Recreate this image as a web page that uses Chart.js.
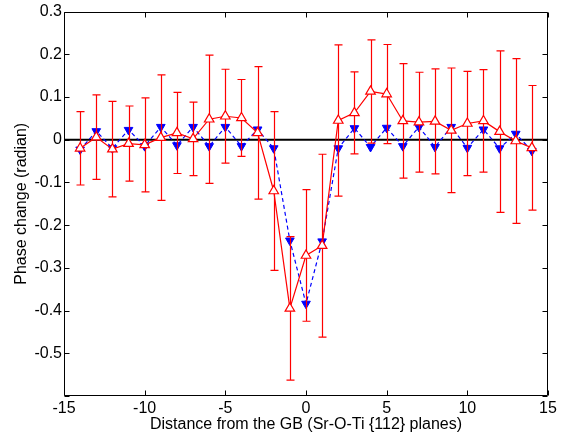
<!DOCTYPE html>
<html lang="en">
<head>
<meta charset="UTF-8">
<title>Phase change across the GB</title>
<script src="https://cdn.jsdelivr.net/npm/chart.js"></script>
<style>
  html, body { margin: 0; padding: 0; background: #ffffff; }
  #phase-chart { display: block; }
</style>
</head>
<body>
<canvas id="phase-chart" width="565" height="437"></canvas>
<script>
// distance from the boundary, in {112} planes
const planes = [-14, -13, -12, -11, -10, -9, -8, -7, -6, -5, -4, -3, -2, -1, 0,
                1, 2, 3, 4, 5, 6, 7, 8, 9, 10, 11, 12, 13, 14];

// measured phase change (red, open triangles) and its error
const measured = [-0.020, 0.006, -0.022, -0.009, -0.012, 0.005, 0.016, 0.002, 0.048, 0.055,
                  0.051, 0.016, -0.120, -0.395, -0.271, -0.248, 0.045, 0.063, 0.113, 0.107,
                  0.044, 0.041, 0.043, 0.022, 0.038, 0.044, 0.019, -0.003, -0.019];
const measuredErr = [0.086, 0.099, 0.112, 0.088, 0.110, 0.147, 0.095, 0.086, 0.150, 0.110,
                     0.090, 0.155, 0.186, 0.168, 0.154, 0.214, 0.177, 0.096, 0.121, 0.116,
                     0.134, 0.117, 0.123, 0.146, 0.122, 0.120, 0.189, 0.193, 0.146];

// simulated phase change (blue, filled triangles)
const simulated = [-0.023, 0.020, -0.020, 0.023, -0.015, 0.030, -0.013, 0.030, -0.015, 0.030,
                   -0.015, 0.024, -0.020, -0.236, -0.384, -0.238, -0.020, 0.027, -0.017, 0.028,
                   -0.015, 0.030, -0.017, 0.030, -0.019, 0.024, -0.020, 0.014, -0.026];

const xTickValues = [-15, -10, -5, 0, 5, 10, 15];
const yTickValues = [-0.6, -0.5, -0.4, -0.3, -0.2, -0.1, 0, 0.1, 0.2, 0.3];
const yTickLabels = ['', '-0.5', '-0.4', '-0.3', '-0.2', '-0.1', '0', '0.1', '0.2', '0.3'];

const labelFont = { family: "'Liberation Sans', Arial, sans-serif", size: 16 };

// zero line under the data
const zeroLine = {
    id: 'zeroLine',
    beforeDatasetsDraw(chart) {
        const { ctx, chartArea: a, scales: { y } } = chart;
        const y0 = y.getPixelForValue(0);
        ctx.save();
        ctx.strokeStyle = '#000000';
        ctx.lineWidth = 2;
        ctx.beginPath();
        ctx.moveTo(a.left, y0);
        ctx.lineTo(a.right, y0);
        ctx.stroke();
        ctx.restore();
    }
};

// error bars for the measured series, drawn just before its line and markers
const errorBars = {
    id: 'errorBars',
    beforeDatasetDraw(chart, args) {
        if (args.index !== 0) return;
        const { ctx, scales: { x, y } } = chart;
        ctx.save();
        ctx.strokeStyle = '#ff0000';
        ctx.lineWidth = 1.2;
        planes.forEach((p, i) => {
            const px = Math.round(x.getPixelForValue(p)) + 0.5;
            const top = y.getPixelForValue(measured[i] + measuredErr[i]);
            const bot = y.getPixelForValue(measured[i] - measuredErr[i]);
            ctx.beginPath();
            ctx.moveTo(px, top); ctx.lineTo(px, bot);
            ctx.moveTo(px - 4, top); ctx.lineTo(px + 4, top);
            ctx.moveTo(px - 4, bot); ctx.lineTo(px + 4, bot);
            ctx.stroke();
        });
        ctx.restore();
    }
};

// box around the plot with inward ticks on all sides
const frame = {
    id: 'frame',
    afterDraw(chart) {
        const { ctx, chartArea: a, scales: { x, y } } = chart;
        const L = Math.round(a.left) + 0.5, R = Math.round(a.right) - 0.5;
        const T = Math.round(a.top) + 0.5, B = Math.round(a.bottom) - 0.5;
        ctx.save();
        ctx.strokeStyle = '#000000';
        ctx.lineWidth = 1;
        ctx.beginPath();
        ctx.rect(L, T, R - L, B - T);
        xTickValues.forEach(v => {
            const px = Math.round(x.getPixelForValue(v)) + 0.5;
            ctx.moveTo(px, B); ctx.lineTo(px, B - 5);
            ctx.moveTo(px, T); ctx.lineTo(px, T + 5);
        });
        yTickValues.forEach(v => {
            const py = Math.round(y.getPixelForValue(v)) + 0.5;
            ctx.moveTo(L, py); ctx.lineTo(L + 5, py);
            ctx.moveTo(R, py); ctx.lineTo(R - 5, py);
        });
        ctx.stroke();
        ctx.restore();
    }
};

const ctx = document.getElementById('phase-chart').getContext('2d');
const chart = new Chart(ctx, {
    type: 'line',
    data: {
        datasets: [
            {
                label: 'measured',
                data: planes.map((p, i) => ({ x: p, y: measured[i] })),
                borderColor: '#ff0000',
                borderWidth: 1.2,
                backgroundColor: '#ffffff',
                pointStyle: 'triangle',
                pointRadius: 5.5,
                pointBorderColor: '#ff0000',
                pointBackgroundColor: '#ffffff',
                pointBorderWidth: 1.2,
                tension: 0
            },
            {
                label: 'simulated',
                data: planes.map((p, i) => ({ x: p, y: simulated[i] })),
                borderColor: '#0000ff',
                borderWidth: 1.2,
                borderDash: [4, 3],
                pointStyle: 'triangle',
                pointRotation: 180,
                pointRadius: 5,
                pointBorderColor: '#0000ff',
                pointBackgroundColor: '#0000ff',
                pointBorderWidth: 1,
                tension: 0
            }
        ]
    },
    options: {
        responsive: false,
        animation: false,
        devicePixelRatio: 1,
        layout: { padding: { left: 0, right: 17, top: 10, bottom: 0 } },
        plugins: {
            legend: { display: false },
            tooltip: { enabled: false }
        },
        scales: {
            x: {
                type: 'linear',
                min: -15,
                max: 15,
                afterBuildTicks: s => { s.ticks = xTickValues.map(v => ({ value: v })); },
                afterFit: s => { s.height = 41; },
                grid: { display: false, drawTicks: false },
                border: { display: false },
                ticks: { color: '#000000', font: labelFont, padding: 3, maxRotation: 0 },
                title: {
                    display: true,
                    text: 'Distance from the GB (Sr-O-Ti {112} planes)',
                    color: '#000000',
                    font: labelFont,
                    padding: { top: 0, bottom: 3 }
                }
            },
            y: {
                type: 'linear',
                min: -0.6,
                max: 0.3,
                afterBuildTicks: s => { s.ticks = yTickValues.map(v => ({ value: v })); },
                afterFit: s => { s.width = 64; },
                grid: { display: false, drawTicks: false },
                border: { display: false },
                ticks: {
                    color: '#000000',
                    font: labelFont,
                    padding: 2,
                    callback: (v, i) => yTickLabels[i]
                },
                title: {
                    display: true,
                    text: 'Phase change (radian)',
                    color: '#000000',
                    font: labelFont,
                    padding: { top: 12, bottom: 0 }
                }
            }
        }
    },
    plugins: [zeroLine, errorBars, frame]
});
</script>
</body>
</html>
